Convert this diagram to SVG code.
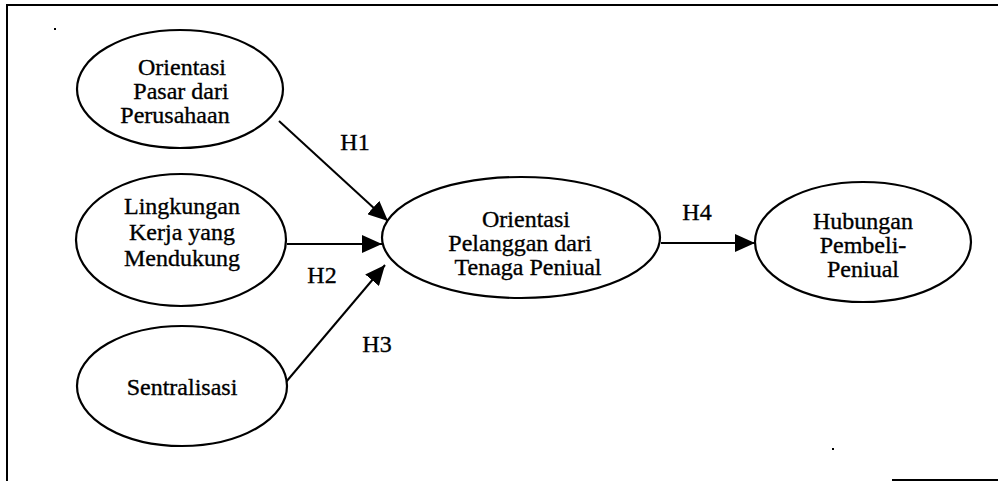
<svg xmlns="http://www.w3.org/2000/svg" width="998" height="481" viewBox="0 0 998 481" font-family="'Liberation Serif', 'DejaVu Serif', serif">
  <style>
    text { font-family: "Liberation Serif", "DejaVu Serif", serif; font-size: 24px; fill: #000000; stroke: #000000; stroke-width: 0.35; text-anchor: middle; }
    .node ellipse { fill: #ffffff; stroke: #000000; stroke-width: 2.2; }
    .edge { stroke: #000000; stroke-width: 2; fill: none; marker-end: url(#arrow); }
    .frame { stroke: #000000; stroke-width: 2; fill: none; }
  </style>
  <defs>
    <marker id="arrow" viewBox="0 0 20 18" refX="20" refY="9" markerWidth="20" markerHeight="18" markerUnits="userSpaceOnUse" orient="auto">
      <path d="M0,0 L20,9 L0,18 Z" fill="#000000"/>
    </marker>
  </defs>

  <rect width="998" height="481" fill="#ffffff"/>

  <!-- outer frame (open on the right and partly at the bottom) -->
  <g id="frame">
    <path class="frame" d="M7,481 L7,5 L998,5"/>
    <path class="frame" d="M892,480 L998,480"/>
    <rect x="54" y="28" width="2" height="2" fill="#000000"/>
    <rect x="832" y="448" width="2" height="2" fill="#000000"/>
  </g>

  <!-- connectors -->
  <g id="connectors">
    <line class="edge" x1="279" y1="121" x2="388" y2="221"/>
    <line class="edge" x1="287" y1="244" x2="382" y2="244"/>
    <line class="edge" x1="286" y1="382" x2="385" y2="265"/>
    <line class="edge" x1="661" y1="243" x2="755" y2="243"/>
    <text x="355" y="150">H1</text>
    <text x="322" y="283">H2</text>
    <text x="377" y="352">H3</text>
    <text x="697" y="220">H4</text>
  </g>

  <g id="orientasi-pasar" class="node">
    <ellipse cx="180" cy="89" rx="103" ry="59"/>
    <text x="182" y="75">Orientasi</text>
    <text x="181" y="99">Pasar dari</text>
    <text x="175" y="123">Perusahaan</text>
  </g>

  <g id="lingkungan-kerja" class="node">
    <ellipse cx="181" cy="240" rx="105" ry="66"/>
    <text x="182" y="214">Lingkungan</text>
    <text x="182" y="240">Kerja yang</text>
    <text x="182" y="266">Mendukung</text>
  </g>

  <g id="sentralisasi" class="node">
    <ellipse cx="182" cy="386" rx="105" ry="60"/>
    <text x="182" y="395">Sentralisasi</text>
  </g>

  <g id="orientasi-pelanggan" class="node">
    <ellipse cx="521" cy="237.5" rx="139" ry="60.5"/>
    <text x="526" y="227">Orientasi</text>
    <text x="520" y="251">Pelanggan dari</text>
    <text x="528" y="275">Tenaga Peniual</text>
  </g>

  <g id="hubungan" class="node">
    <ellipse cx="863" cy="242" rx="108" ry="60"/>
    <text x="863" y="229">Hubungan</text>
    <text x="863" y="253">Pembeli-</text>
    <text x="863" y="277">Peniual</text>
  </g>
</svg>
